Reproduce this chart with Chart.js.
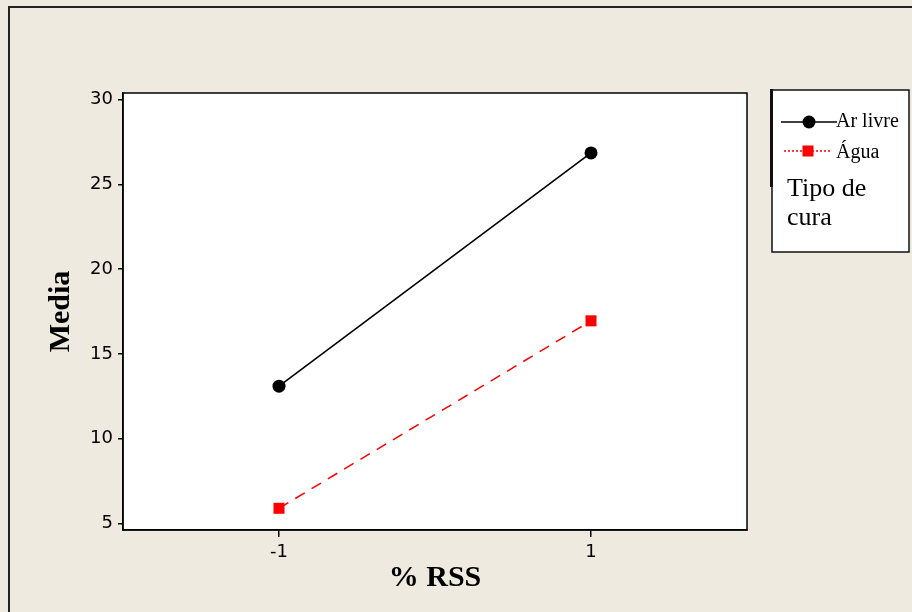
<!DOCTYPE html>
<html><head><meta charset="utf-8">
<script src="https://cdn.jsdelivr.net/npm/chart.js@4"></script>
<style>html,body{margin:0;padding:0;background:#EEEAE0;overflow:hidden;} #wrap{width:912px;height:612px;position:relative;}</style>
</head><body><div id="wrap"><canvas id="c" width="912" height="612"></canvas></div>
<script>
const categories = [-1, 1];
const xTickLabels = ['-1', '1'];
const seriesNames = ['Ar livre', 'Água'];
const arLivre = [13.1, 26.85];
const agua = [5.9, 16.95];
const yTicks = [5, 10, 15, 20, 25, 30];
const legendTitle = ['Tipo de', 'cura'];
const xTitle = '% RSS';
const yTitle = 'Media';

const BG = '#EEEAE0';
const tickFont = {family: '"DejaVu Sans", sans-serif', size: 18};

const framePlugin = {
  id: 'frame',
  beforeDraw(chart) {
    const ctx = chart.ctx, a = chart.chartArea;
    ctx.save();
    ctx.fillStyle = BG;
    ctx.fillRect(0, 0, chart.width, chart.height);
    ctx.strokeStyle = '#222';
    ctx.lineWidth = 2;
    ctx.beginPath();
    ctx.moveTo(9, chart.height);
    ctx.lineTo(9, 7);
    ctx.lineTo(chart.width, 7);
    ctx.stroke();
    ctx.fillStyle = '#fff';
    ctx.fillRect(a.left, a.top, a.right - a.left, a.bottom - a.top);
    ctx.restore();
  },
  afterDraw(chart) {
    const ctx = chart.ctx, a = chart.chartArea;
    ctx.save();
    ctx.strokeStyle = '#000';
    ctx.lineWidth = 1.5;
    ctx.strokeRect(a.left, a.top, a.right - a.left, a.bottom - a.top);
    // legend box
    ctx.fillStyle = '#fff';
    ctx.fillRect(772, 90, 137, 162);
    ctx.strokeStyle = '#111';
    ctx.lineWidth = 1.5;
    ctx.strokeRect(772, 90, 137, 162);
    ctx.lineWidth = 3;
    ctx.beginPath();
    ctx.moveTo(771.5, 89);
    ctx.lineTo(771.5, 187);
    ctx.stroke();
    const ds = chart.data.datasets;
    // item 1
    ctx.lineWidth = 1.5;
    ctx.strokeStyle = ds[0].borderColor;
    ctx.setLineDash([]);
    ctx.beginPath(); ctx.moveTo(781, 122); ctx.lineTo(837, 122); ctx.stroke();
    ctx.fillStyle = ds[0].pointBackgroundColor;
    ctx.beginPath(); ctx.arc(809, 122, 6.5, 0, Math.PI * 2); ctx.fill();
    // item 2
    ctx.strokeStyle = ds[1].borderColor;
    ctx.setLineDash([2, 2]);
    ctx.beginPath(); ctx.moveTo(784, 151); ctx.lineTo(831, 151); ctx.stroke();
    ctx.setLineDash([]);
    ctx.fillStyle = ds[1].pointBackgroundColor;
    ctx.fillRect(802.5, 145.5, 11, 11);
    ctx.fillStyle = '#000';
    ctx.textBaseline = 'middle';
    ctx.textAlign = 'left';
    ctx.font = '20px "Liberation Serif", serif';
    ctx.fillText(ds[0].label, 836, 122);
    ctx.fillText(ds[1].label, 836, 153);
    ctx.font = '26px "Liberation Serif", serif';
    ctx.fillText(legendTitle[0], 787, 189);
    ctx.fillText(legendTitle[1], 787, 218);
    ctx.restore();
  }
};

new Chart(document.getElementById('c'), {
  type: 'line',
  data: {
    datasets: [
      {
        label: seriesNames[0],
        data: categories.map((c, i) => ({x: c, y: arLivre[i]})),
        borderColor: '#000', backgroundColor: '#000',
        pointBackgroundColor: '#000', pointBorderColor: '#000',
        borderWidth: 1.6, pointRadius: 6.5, pointStyle: 'circle', pointBorderWidth: 0,
        tension: 0
      },
      {
        label: seriesNames[1],
        data: categories.map((c, i) => ({x: c, y: agua[i]})),
        borderColor: '#ff0000', backgroundColor: '#ff0000',
        pointBackgroundColor: '#ff0000', pointBorderColor: '#ff0000',
        borderWidth: 1.5, borderDash: [11, 8], pointRadius: 7.8, pointStyle: 'rect', pointBorderWidth: 0,
        tension: 0
      }
    ]
  },
  options: {
    responsive: false,
    devicePixelRatio: 1,
    animation: false,
    layout: {padding: {top: 93, right: 165, left: 0, bottom: 0}},
    plugins: {legend: {display: false}, tooltip: {enabled: false}},
    scales: {
      x: {
        type: 'linear', min: -2, max: 2,
        afterBuildTicks(s) { s.ticks = categories.map(v => ({value: v})); },
        afterFit(s) { s.height = 82; },
        ticks: {
          color: '#000', font: tickFont, padding: 5, maxRotation: 0,
          callback: (v) => xTickLabels[categories.indexOf(v)]
        },
        grid: {drawOnChartArea: false, drawTicks: true, tickLength: 7, tickColor: '#000', lineWidth: 1.5},
        border: {color: '#000', width: 1.5},
        title: {display: true, text: xTitle, color: '#000', font: {family: '"Liberation Serif", serif', size: 30, weight: 'bold', lineHeight: 1}, padding: {top: 19, bottom: 19}}
      },
      y: {
        type: 'linear', min: 4.62, max: 30.38,
        afterBuildTicks(s) { s.ticks = yTicks.map(v => ({value: v})); },
        afterFit(s) { s.width = 123; },
        ticks: {color: '#000', font: tickFont, padding: 5, callback: (v) => String(v)},
        grid: {drawOnChartArea: false, drawTicks: true, tickLength: 5, tickColor: '#000', lineWidth: 1.5},
        border: {color: '#000', width: 1.5},
        title: {display: true, text: yTitle, color: '#000', font: {family: '"Liberation Serif", serif', size: 30, weight: 'bold', lineHeight: 1}, padding: {top: 46, bottom: 0}}
      }
    }
  },
  plugins: [framePlugin]
});
</script>
</body></html>
